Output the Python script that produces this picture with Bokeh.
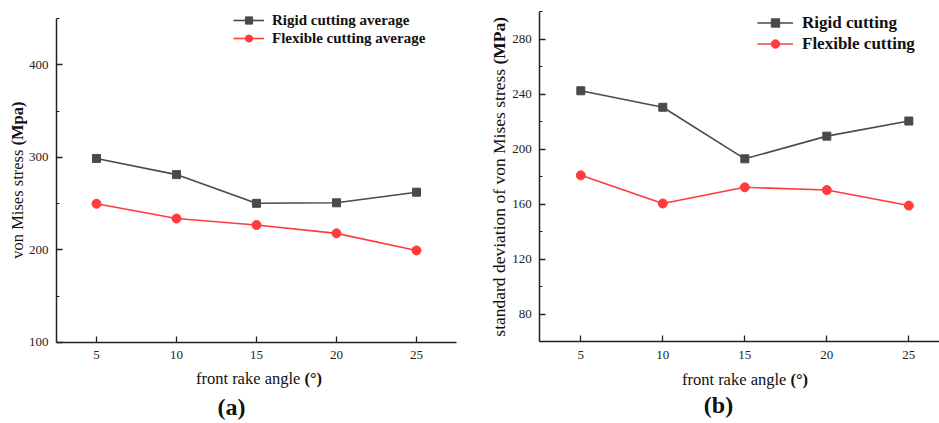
import math
from bokeh.plotting import figure
from bokeh.layouts import row
from bokeh.models import FixedTicker, Label, Legend, LegendItem, Range1d
from bokeh.embed import file_html
from bokeh.resources import INLINE

# ---------------- data ----------------
angles = [5, 10, 15, 20, 25]
rigid_avg = [299, 281.5, 250.5, 251, 262.5]
flex_avg = [250, 234, 227, 218, 199.5]
rigid_std = [242.5, 230.5, 193, 209.5, 220.5]
flex_std = [181, 160.5, 172.3, 170.3, 159]

a_yticks = [100, 200, 300, 400]
a_yminor = [150, 250, 350, 450]
b_yticks = [80, 120, 160, 200, 240, 280]
b_yminor = [60, 100, 140, 180, 220, 260, 300]

GREY = "#4a4a4a"
RED = "#ff3b3b"
SERIF = "Liberation Serif"
H = 423


def style(p, yticks, yminor, xbounds, ybounds):
    p.xaxis.ticker = FixedTicker(ticks=angles, minor_ticks=[])
    p.yaxis.ticker = FixedTicker(ticks=yticks, minor_ticks=yminor)
    p.xaxis.fixed_location = ybounds[0]
    p.yaxis.fixed_location = xbounds[0]
    p.xaxis.bounds = xbounds
    p.yaxis.bounds = ybounds
    for ax in (p.xaxis[0], p.yaxis[0]):
        ax.axis_line_width = 1.5
        ax.axis_line_color = "#222222"
        ax.major_tick_in = 6
        ax.major_tick_out = 0
        ax.minor_tick_in = 3
        ax.minor_tick_out = 0
        ax.major_tick_line_width = 1.3
        ax.minor_tick_line_width = 1
        ax.major_tick_line_color = "#222222"
        ax.minor_tick_line_color = "#222222"
        ax.major_label_text_font = SERIF
        ax.major_label_text_font_size = "13px"
        ax.major_label_text_color = "#222222"
    p.xaxis.major_label_standoff = 9
    p.yaxis.major_label_standoff = 8
    p.xgrid.visible = False
    p.ygrid.visible = False
    p.outline_line_color = None


def add_text(p, x, y, text, size, bold=False, angle=0.0, align="center", font=SERIF):
    # x, y given in canvas pixels from the top-left corner of the figure
    p.add_layout(Label(x=x, y=H - y, x_units="screen", y_units="screen", text=text,
                       text_font=font, text_font_size=size,
                       text_font_style="bold" if bold else "normal",
                       text_align=align, text_baseline="middle",
                       angle=angle, text_color="#111111"))


def series(p, ys_r, ys_f, lab_r, lab_f):
    lr = p.line(angles, ys_r, line_color=GREY, line_width=1.6)
    sr = p.scatter(angles, ys_r, marker="square", size=8, fill_color=GREY, line_color=GREY)
    lf = p.line(angles, ys_f, line_color=RED, line_width=1.6)
    sf = p.scatter(angles, ys_f, marker="circle", size=9, fill_color=RED, line_color=RED)
    return [LegendItem(label=lab_r, renderers=[lr, sr]), LegendItem(label=lab_f, renderers=[lf, sf])]


def make_fig(width, xr, yr):
    return figure(width=width, height=H, output_backend="svg", toolbar_location=None,
                  x_range=Range1d(*xr), y_range=Range1d(*yr),
                  min_border_left=0, min_border_right=0, min_border_top=0, min_border_bottom=0)


# ---------------- panel (a) ----------------
pa = make_fig(470, (-1.0, 28.375), (12.43, 469.73))
style(pa, a_yticks, a_yminor, (2.5, 27.5), (100, 450))
items_a = series(pa, rigid_avg, flex_avg, "Rigid cutting average", "Flexible cutting average")
leg_a = Legend(items=items_a, location=(233, H - 47), glyph_width=31, glyph_height=18,
               label_height=18, label_standoff=8, spacing=0, padding=0, margin=0,
               label_text_font=SERIF, label_text_font_size="15px",
               label_text_font_style="bold", label_text_color="#111111",
               border_line_color=None, background_fill_alpha=0)
pa.add_layout(leg_a, "center")
add_text(pa, 17, 145, "von Mises stress ", "16.5px", angle=math.pi / 2, align="right")
add_text(pa, 17, 145, "(Mpa)", "16.5px", bold=True, angle=math.pi / 2, align="left")
add_text(pa, 304, 378, "front rake angle ", "16.5px", align="right")
add_text(pa, 304, 378, "(°)", "16.5px", bold=True, align="left")
add_text(pa, 231, 406, "(a)", "24px", bold=True)

# ---------------- panel (b) ----------------
pb = make_fig(469, (-1.726, 26.87), (0.51, 308.15))
style(pb, b_yticks, b_yminor, (2.5, 27.5), (60, 300))
items_b = series(pb, rigid_std, flex_std, "Rigid cutting", "Flexible cutting")
leg_b = Legend(items=items_b, location=(287, H - 54), glyph_width=36, glyph_height=21,
               label_height=21, label_standoff=9, spacing=0, padding=0, margin=0,
               label_text_font=SERIF, label_text_font_size="17px",
               label_text_font_style="bold", label_text_color="#111111",
               border_line_color=None, background_fill_alpha=0)
pb.add_layout(leg_b, "center")
add_text(pb, 28, 64, "standard deviation of von Mises stress ", "17.5px", angle=math.pi / 2, align="right")
add_text(pb, 28, 64, "(MPa)", "17.5px", bold=True, angle=math.pi / 2, align="left")
add_text(pb, 320, 379, "front rake angle ", "16.5px", align="right")
add_text(pb, 320, 379, "(°)", "16.5px", bold=True, align="left")
add_text(pb, 248, 404, "(b)", "24px", bold=True)

layout = row(pa, pb)
open("out.html", "w").write(file_html(layout, INLINE))
